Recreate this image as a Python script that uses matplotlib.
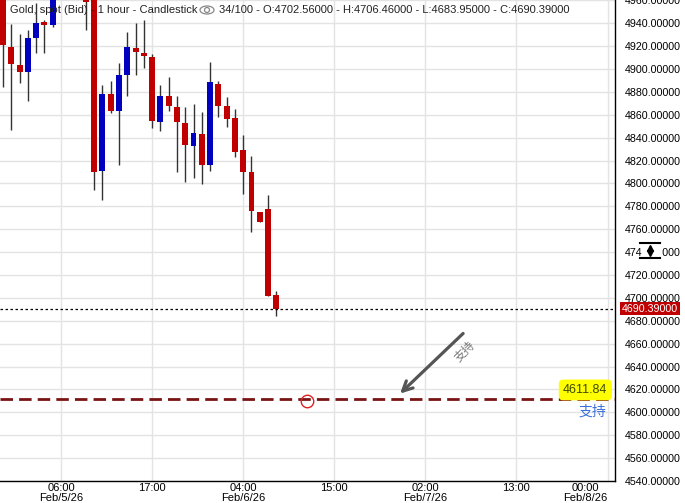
import matplotlib.pyplot as plt
import matplotlib.transforms as mtransforms
from matplotlib.patches import Ellipse, Rectangle
import numpy as np

plt.rcParams['font.family'] = ['Liberation Sans', 'Noto Sans CJK SC', 'DejaVu Sans']

# hourly candles, hour 0 = Feb 5 2026 00:00
hours = list(range(-1, 33))
opens = [4968, 4919.6, 4903.9, 4897.2, 4926.9, 4941.5, 4938.3, 4972, 4986, 4980,
         4970, 4962, 4810.7, 4878.6, 4863.1, 4894.6, 4918.8, 4913.8, 4910.9, 4853.5,
         4876.0, 4867.2, 4852.6, 4833.1, 4843.6, 4816.5, 4887.3, 4868.1, 4857.0, 4828.8,
         4810.4, 4774.8, 4777.8, 4702.56]
highs = [4975, 4938.9, 4930.4, 4934.5, 4957.5, 4942.5, 4985, 4992, 5002, 4988,
         4975, 4968, 4885.6, 4889.9, 4905.0, 4932.7, 4940.0, 4942.4, 4913.3, 4886.4,
         4893.4, 4876.8, 4866.6, 4869.0, 4862.2, 4905.9, 4889.1, 4875.3, 4864.9, 4842.7,
         4824.4, 4774.8, 4790.3, 4706.46]
lows = [4884.7, 4847.1, 4887.6, 4871.8, 4913.8, 4913.8, 4937.1, 4965, 4975, 4966,
        4934.5, 4794.7, 4785.8, 4861.7, 4815.9, 4876.2, 4894.6, 4900.7, 4848.2, 4846.2,
        4863.1, 4809.8, 4801.1, 4804.9, 4799.7, 4811.3, 4858.5, 4849.7, 4822.9, 4791.2,
        4757.4, 4766.1, 4701.4, 4683.95]
closes = [4921.4, 4904.8, 4897.2, 4926.9, 4940.6, 4938.3, 4972, 4986, 4980, 4970,
          4958.4, 4809.8, 4878.3, 4863.1, 4895.2, 4919.6, 4914.7, 4911.2, 4854.4, 4876.0,
          4867.5, 4853.5, 4834.0, 4844.5, 4816.5, 4888.4, 4868.1, 4856.7, 4827.9, 4810.4,
          4775.7, 4766.1, 4701.4, 4690.39]

tick_hours = [6, 17, 28, 39, 50, 61, 72]
tick_labels = ['06:00\nFeb/5/26', '17:00', '04:00\nFeb/6/26', '15:00',
               '02:00\nFeb/7/26', '13:00', '00:00\nFeb/8/26']

last_price = 4690.39
support = 4611.84

o = np.array(opens)
c = np.array(closes)
colors = np.where(c >= o, '#0000c0', '#c00000')

fig = plt.figure(figsize=(6.85, 5.03), dpi=100)
ax = fig.add_axes([0, 22 / 503, 615 / 685, 481 / 503])
ax.set_xlim(-1.37, 72.9)
ax.set_ylim(4540, 4540 + 481 / 1.1444)

ax.vlines(hours, lows, highs, color='#333333', lw=1, zorder=2)
ax.bar(hours, c - o, bottom=o, width=0.72, color=colors, zorder=3)

# grid and axes
ax.set_yticks(np.arange(4540, 4961, 20))
ax.yaxis.set_major_formatter(plt.FormatStrFormatter('%.5f'))
ax.yaxis.tick_right()
ax.set_xticks(tick_hours)
ax.set_xticklabels(tick_labels, family=['Liberation Sans Narrow', 'Liberation Sans'],
                   fontsize=8, linespacing=0.95)
ax.tick_params(axis='y', length=0, pad=7, labelsize=7.7)
ax.tick_params(axis='x', length=0, pad=1.5)
ax.grid(True, color='#e3e3e3', lw=1, zorder=0)
ax.set_axisbelow(True)
for s in ['left', 'top']:
    ax.spines[s].set_visible(False)
for s in ['right', 'bottom']:
    ax.spines[s].set_color('black')
    ax.spines[s].set_linewidth(1)

lbl = ax.get_xticklabels()[-1]
lbl.set_transform(lbl.get_transform() + mtransforms.ScaledTranslation(-22 / 100, 0, fig.dpi_scale_trans))

# last price line and label
ax.axhline(last_price, color='black', lw=0.9, dashes=(2, 2), zorder=4)
ax.text(1.0115, last_price, '%.5f' % last_price, transform=ax.get_yaxis_transform(),
        color='white', fontsize=7.7, va='center', ha='left',
        bbox=dict(boxstyle='square,pad=0.15', fc='#c00000', ec='none'), clip_on=False)

# support line
ax.axhline(support, color='#7a1414', lw=2, dashes=(4.5, 2.2), zorder=4)
ax.plot([35.7], [support - 1.5], marker='o', ms=9, mfc='none', mec='#e02020', mew=1, zorder=5)
ax.text(72.0, support + 2.5, '%.2f' % support, ha='right', va='bottom', fontsize=9,
        color='#3d4a00', bbox=dict(boxstyle='round,pad=0.35', fc='#ffff00', ec='none'), zorder=6)
ax.text(71.8, support - 5, '支持', ha='right', va='top', fontsize=10, color='#3a6fd8', zorder=6)

ax.annotate('', xy=(46.7, 4614.7), xytext=(54.8, 4670.6),
            arrowprops=dict(arrowstyle='->,head_length=0.7,head_width=0.35', color='#555555', lw=2.3))
ax.text(54.8, 4653, '支持', rotation=45, ha='center', va='center', fontsize=8.5, color='#777777')

# scroll control over the right scale
def px(x, y):
    return x / 685, 1 - y / 503

fig.patches.append(Rectangle(px(642, 257), 20 / 685, 13 / 503, transform=fig.transFigure,
                             fc='white', ec='none', zorder=5))
for yy in [242.7, 258.3]:
    fig.lines.append(plt.Line2D([640 / 685, 660 / 685], [1 - yy / 503] * 2, transform=fig.transFigure,
                                color='black', lw=1.5, zorder=6))
fig.lines.append(plt.Line2D([650 / 685], [1 - 247.5 / 503], transform=fig.transFigure, marker='^',
                            ms=4.5, color='black', ls='none', zorder=6))
fig.lines.append(plt.Line2D([650 / 685], [1 - 253 / 503], transform=fig.transFigure, marker='v',
                            ms=4.5, color='black', ls='none', zorder=6))

# header
fig.text(*px(10, 10), 'Gold, spot (Bid) - 1 hour - Candlestick', fontsize=8, va='center', color='#222222')
fig.patches.append(Ellipse(px(207, 10), 14 / 685, 8 / 503, transform=fig.transFigure,
                           fc='none', ec='#888888', lw=0.9))
fig.patches.append(Ellipse(px(207, 10), 5 / 685, 5 / 503, transform=fig.transFigure,
                           fc='none', ec='#888888', lw=0.9))
fig.text(*px(219, 10), '34/100 - O:4702.56000 - H:4706.46000 - L:4683.95000 - C:4690.39000',
         fontsize=8, va='center', color='#222222')

fig.savefig('out.png', dpi=100)
